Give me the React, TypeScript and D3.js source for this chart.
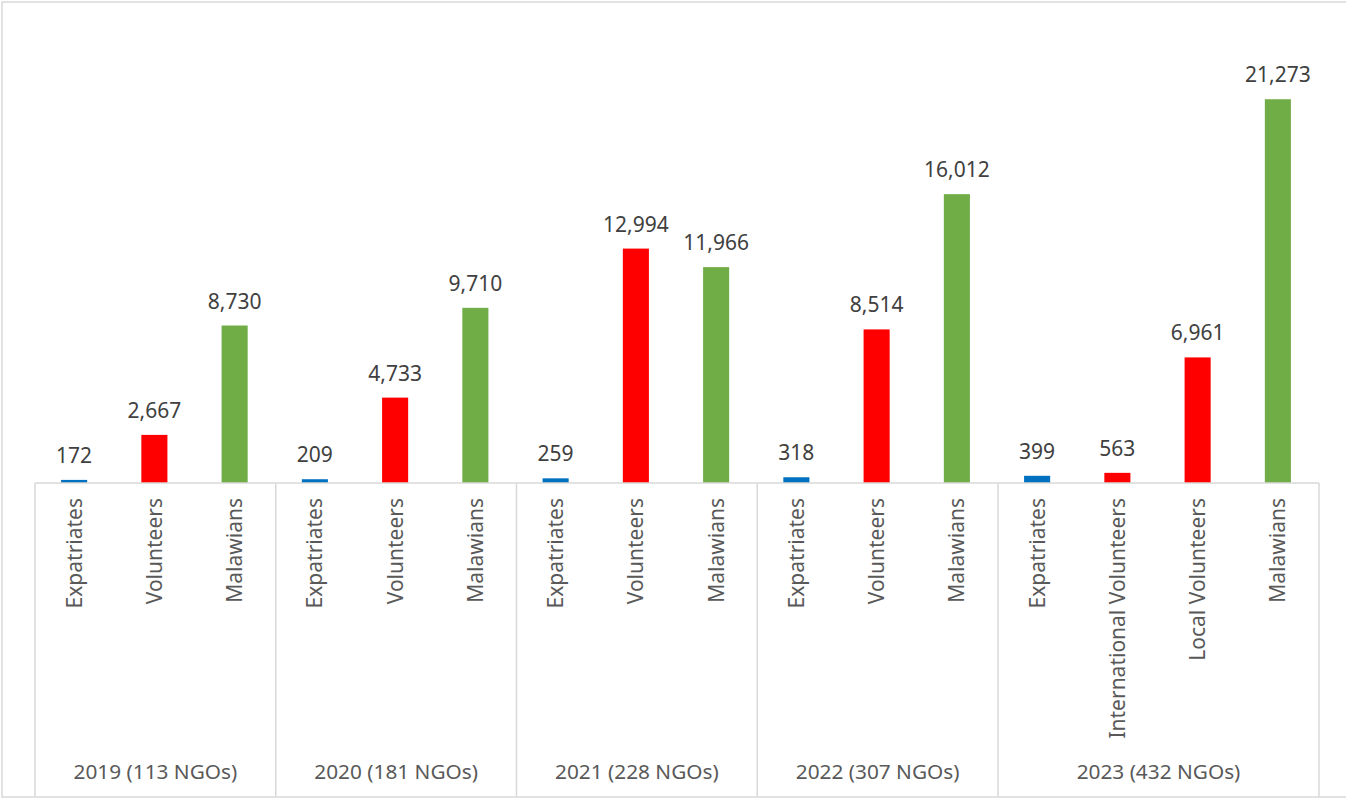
import * as d3 from 'd3';

const groups = ['2019 (113 NGOs)', '2020 (181 NGOs)', '2021 (228 NGOs)', '2022 (307 NGOs)', '2023 (432 NGOs)'];
const groupCategories = [
  ['Expatriates', 'Volunteers', 'Malawians'],
  ['Expatriates', 'Volunteers', 'Malawians'],
  ['Expatriates', 'Volunteers', 'Malawians'],
  ['Expatriates', 'Volunteers', 'Malawians'],
  ['Expatriates', 'International Volunteers', 'Local Volunteers', 'Malawians'],
];
const groupValues = [
  [172, 2667, 8730],
  [209, 4733, 9710],
  [259, 12994, 11966],
  [318, 8514, 16012],
  [399, 563, 6961, 21273],
];

const colorFor = (name: string) =>
  name === 'Expatriates' ? '#0070C0' : name === 'Malawians' ? '#70AD47' : '#FF0000';

const width = 1346;
const height = 799;
const left = 35;
const right = 1319;
const baseY = 483;
const font = "'Noto Sans', 'Open Sans', sans-serif";

export default function App() {
  const items = groupCategories.flatMap((cats, g) =>
    cats.map((c, i) => ({ key: `${g}-${i}`, name: c, group: g, value: groupValues[g][i] }))
  );

  const x = d3.scaleBand<string>()
    .domain(items.map(d => d.key))
    .range([left, right])
    .paddingInner(0.675)
    .paddingOuter(0.3375);

  const y = d3.scaleLinear().domain([0, 25000]).range([baseY, 32]);
  const fmt = d3.format(',');
  const step = x.step();

  // group boundaries
  const bounds: number[] = [left];
  let acc = 0;
  groupCategories.forEach(cats => {
    acc += cats.length;
    bounds.push(left + acc * step);
  });

  return (
    <div style={{ position: 'absolute', left: 0, top: 0 }}>
      <svg width={width} height={height} style={{ display: 'block' }}>
        <rect x={0} y={0} width={width} height={height} fill="#fff" />
        <rect x={2} y={2} width={width + 10} height={height - 4} fill="none" stroke="#d9d9d9" strokeWidth={1.5} />

        {items.map(d => (
          <rect
            key={d.key}
            x={(x(d.key) ?? 0) - 1}
            y={y(d.value)}
            width={x.bandwidth()}
            height={baseY - y(d.value)}
            fill={colorFor(d.name)}
          />
        ))}

        <line x1={left} x2={right} y1={baseY} y2={baseY} stroke="#d9d9d9" strokeWidth={1.5} />
        {bounds.map((bx, i) => (
          <line key={i} x1={bx} x2={bx} y1={baseY} y2={797} stroke="#d9d9d9" strokeWidth={1.5} />
        ))}

        {items.map(d => (
          <text
            key={'v' + d.key}
            x={(x(d.key) ?? 0) + x.bandwidth() / 2 - 1}
            y={y(d.value) - 17}
            textAnchor="middle"
            fontFamily={font}
            fontSize={21}
            fill="#404040"
          >
            {fmt(d.value)}
          </text>
        ))}

        {items.map(d => {
          const cx = (x(d.key) ?? 0) + x.bandwidth() / 2 - 1;
          return (
            <text
              key={'c' + d.key}
              transform={`translate(${cx},498) rotate(-90)`}
              textAnchor="end"
              dy="0.36em"
              fontFamily={font}
              fontSize={21}
              fill="#595959"
            >
              {d.name}
            </text>
          );
        })}

        {groups.map((g, i) => (
          <text
            key={g}
            x={(bounds[i] + bounds[i + 1]) / 2}
            y={779}
            textAnchor="middle"
            fontFamily={font}
            fontSize={20.8}
            fill="#595959"
          >
            {g}
          </text>
        ))}
      </svg>
    </div>
  );
}
